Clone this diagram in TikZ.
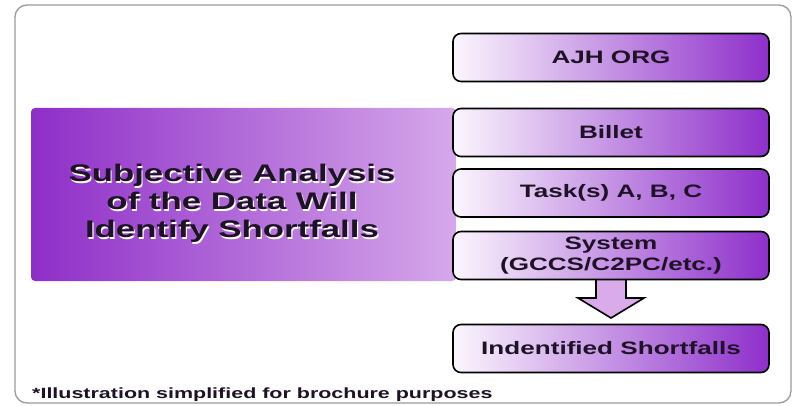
\documentclass[tikz,border=0pt]{standalone}
\usepackage{fontspec}
\setmainfont{Liberation Sans}[FakeStretch=1.45]
\usetikzlibrary{calc}

\definecolor{inkcol}{HTML}{1E1226}
\definecolor{paneldark}{HTML}{8E2EC8}
\definecolor{panellight}{HTML}{D6A8EA}
\definecolor{boxlight}{HTML}{FBF6FD}
\definecolor{boxmid}{HTML}{D39BE4}
\definecolor{boxdark}{HTML}{8E2FCB}
\definecolor{arrowfill}{HTML}{D9ABEA}
\definecolor{framecol}{HTML}{9A9A9A}

\begin{document}
\begin{tikzpicture}[x=1pt,y=-1pt,
  stepbox/.style={draw=black, line width=1.6pt, rounded corners=8pt,
    minimum width=316pt, minimum height=48pt, inner sep=0pt,
    left color=boxlight, middle color=boxmid, right color=boxdark,
    font=\fontsize{18}{21}\selectfont\bfseries, text=inkcol, align=center},
  headline/.style={font=\fontsize{24}{28}\selectfont\bfseries, align=center,
    inner sep=0pt, anchor=base},
  note/.style={font=\fontsize{14.8}{17}\selectfont\bfseries, text=inkcol,
    inner sep=0pt, anchor=base west}]

% page and outer frame
\useasboundingbox (0,0) rectangle (798,406);
\fill[white] (0,0) rectangle (798,406);
\draw[framecol, line width=1.3pt, rounded corners=12pt] (15,5) rectangle (791,403);

% shaded band behind the left heading
\shade[left color=paneldark, right color=panellight, rounded corners=4pt]
  (31,108) rectangle (456,281);

% left heading with a light embossed edge (anchored on its last baseline)
\node[headline, text=white] (headshadow) at (233.2,239.2)
  {Subjective Analysis\\of the Data Will\\Identify Shortfalls};
\node[headline, text=inkcol] (heading) at (232,238)
  {Subjective Analysis\\of the Data Will\\Identify Shortfalls};

% right column of steps
\node[stepbox] (org) at (611,57.5) {AJH ORG};
\node[stepbox] (billet) at (611,132.5) {Billet};
\node[stepbox] (task) at (611,193) {Task(s) A, B, C};

% block arrow from the system box to the result
\coordinate (tip) at (611,318);
\draw[black, line width=1.6pt, line join=miter, fill=arrowfill]
  ($(611,270)+(-15,0)$) -- ($(611,298)+(-15,0)$) -- ($(611,298)+(-33,0)$)
  -- (tip) -- ($(611,298)+(33,0)$) -- ($(611,298)+(15,0)$)
  -- ($(611,270)+(15,0)$);

\node[stepbox] (system) at (611,255.5) {System\\(GCCS/C2PC/etc.)};
\node[stepbox] (result) at (611,348.5) {Indentified Shortfalls};

% footnote
\node[note] (footnote) at (32,398) {*Illustration simplified for brochure purposes};
\end{tikzpicture}
\end{document}
